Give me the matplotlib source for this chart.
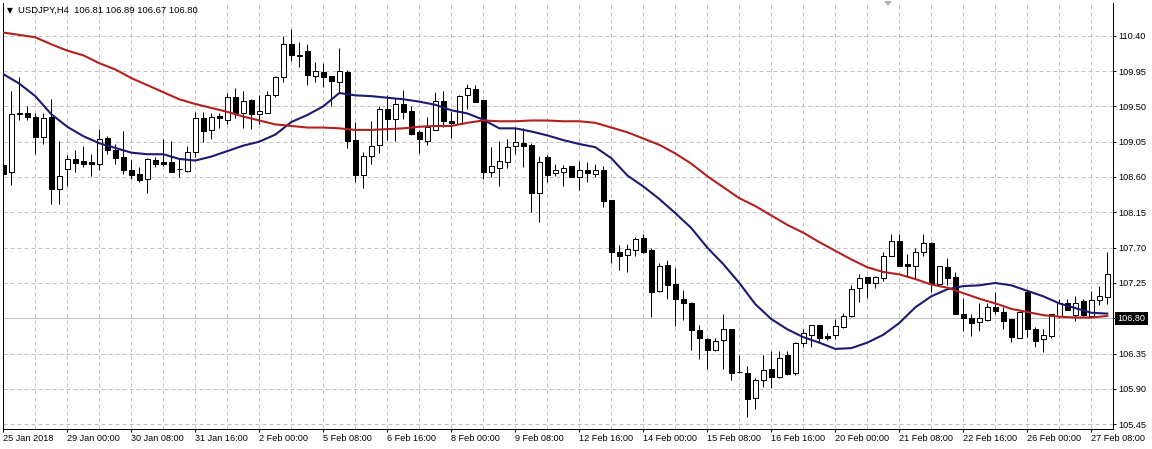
import numpy as np
import matplotlib.pyplot as plt
from matplotlib.patches import Polygon

# USDJPY H4 bars, 25 Jan 2018 16:00 .. 27 Feb 2018 16:00
opens = [108.75, 108.66, 109.40, 109.41, 109.37, 109.11, 109.37, 108.45, 108.70, 108.83,
         108.80, 108.79, 108.77, 109.10, 108.94, 108.85, 108.69, 108.64, 108.57, 108.82,
         108.79, 108.79, 108.70, 108.68, 108.92, 109.35, 109.20, 109.38, 109.33, 109.62,
         109.41, 109.58, 109.40, 109.42, 109.64, 109.87, 110.29, 110.15, 110.20, 109.89,
         109.94, 109.89, 109.81, 109.94, 109.07, 108.63, 108.87, 109.01, 109.47, 109.34,
         109.53, 109.44, 109.17, 109.06, 109.20, 109.57, 109.31, 109.28, 109.65, 109.72,
         109.58, 108.66, 108.72, 108.79, 109.00, 109.03, 109.01, 108.40, 108.85, 108.65,
         108.67, 108.74, 108.60, 108.69, 108.64, 108.69, 108.31, 107.64, 107.61, 107.67,
         107.82, 107.67, 107.15, 107.48, 107.24, 107.05, 107.00, 106.65, 106.54, 106.39,
         106.52, 106.66, 106.11, 106.10, 105.78, 106.01, 106.15, 106.05, 106.33, 106.10,
         106.49, 106.59, 106.71, 106.57, 106.59, 106.69, 106.83, 107.18, 107.32, 107.25,
         107.31, 107.60, 107.78, 107.49, 107.47, 107.65, 107.76, 107.24, 107.45, 107.32,
         106.86, 106.80, 106.75, 106.78, 106.95, 106.88, 106.79, 106.55, 107.14, 106.66,
         106.53, 106.57, 106.83, 106.99, 106.84, 107.02, 106.83, 107.03, 107.07]
highs = [109.15, 109.70, 109.87, 109.50, 109.41, 109.41, 109.59, 109.06, 108.88, 108.95,
         109.00, 108.89, 109.21, 109.12, 109.02, 109.19, 108.82, 108.73, 108.84, 108.86,
         109.09, 109.06, 108.83, 108.99, 109.43, 109.43, 109.41, 109.41, 109.67, 109.74,
         109.69, 109.59, 109.65, 109.70, 109.89, 110.39, 110.48, 110.32, 110.29, 110.07,
         110.05, 109.89, 110.24, 109.96, 109.30, 108.92, 109.31, 109.51, 109.64, 109.61,
         109.71, 109.50, 109.20, 109.36, 109.68, 109.69, 109.43, 109.65, 109.78, 109.77,
         109.58, 108.98, 109.06, 109.09, 109.23, 109.23, 109.03, 108.87, 108.88, 108.77,
         108.75, 108.74, 108.80, 108.79, 108.77, 108.74, 108.31, 107.73, 107.75, 107.84,
         107.88, 107.69, 107.51, 107.54, 107.44, 107.16, 107.01, 106.72, 106.55, 106.55,
         106.86, 106.66, 106.33, 106.19, 106.04, 106.33, 106.38, 106.38, 106.38, 106.50,
         106.66, 106.72, 106.72, 106.61, 106.79, 106.87, 107.22, 107.37, 107.32, 107.34,
         107.65, 107.88, 107.87, 107.62, 107.70, 107.88, 107.77, 107.46, 107.57, 107.39,
         107.06, 106.86, 106.99, 106.99, 107.13, 106.94, 106.79, 106.89, 107.15, 106.69,
         106.67, 106.86, 107.05, 107.04, 107.09, 107.04, 107.15, 107.21, 107.65]
lows = [108.58, 108.50, 109.33, 109.33, 108.89, 109.02, 108.26, 108.26, 108.49, 108.66,
        108.73, 108.61, 108.69, 108.89, 108.77, 108.64, 108.58, 108.53, 108.40, 108.73,
        108.74, 108.67, 108.60, 108.67, 108.86, 109.05, 109.09, 109.22, 109.28, 109.35,
        109.22, 109.21, 109.28, 109.41, 109.62, 109.81, 110.08, 110.00, 109.77, 109.81,
        109.75, 109.50, 109.67, 108.97, 108.54, 108.46, 108.77, 108.90, 109.07, 109.06,
        109.34, 109.13, 108.91, 109.01, 109.20, 109.24, 109.10, 109.27, 109.47, 109.55,
        108.57, 108.60, 108.49, 108.71, 108.89, 108.73, 108.15, 108.03, 108.54, 108.61,
        108.49, 108.60, 108.43, 108.54, 108.60, 108.22, 107.51, 107.41, 107.39, 107.59,
        107.63, 106.82, 107.13, 107.04, 106.70, 106.78, 106.40, 106.28, 106.15, 106.38,
        106.16, 106.02, 106.10, 105.54, 105.65, 105.93, 105.91, 106.04, 106.08, 106.08,
        106.43, 106.43, 106.49, 106.52, 106.54, 106.68, 106.82, 107.01, 107.06, 107.18,
        107.27, 107.59, 107.46, 107.32, 107.31, 107.60, 107.13, 107.21, 107.22, 106.85,
        106.64, 106.58, 106.64, 106.76, 106.85, 106.67, 106.50, 106.55, 106.56, 106.44,
        106.37, 106.55, 106.81, 106.90, 106.77, 106.83, 106.81, 106.97, 106.98]
closes = [108.64, 109.40, 109.41, 109.36, 109.11, 109.35, 108.45, 108.61, 108.83, 108.78,
          108.77, 108.76, 109.08, 108.95, 108.84, 108.69, 108.63, 108.56, 108.83, 108.76,
          108.77, 108.67, 108.70, 108.92, 109.35, 109.18, 109.36, 109.35, 109.62, 109.42,
          109.57, 109.40, 109.44, 109.65, 109.87, 110.29, 110.15, 110.14, 109.90, 109.95,
          109.87, 109.82, 109.95, 109.06, 108.63, 108.87, 109.00, 109.46, 109.34, 109.53,
          109.43, 109.15, 109.08, 109.24, 109.57, 109.31, 109.29, 109.63, 109.74, 109.56,
          108.67, 108.74, 108.80, 108.98, 109.04, 108.99, 108.40, 108.79, 108.63, 108.69,
          108.72, 108.60, 108.69, 108.65, 108.69, 108.29, 107.65, 107.59, 107.68, 107.81,
          107.65, 107.14, 107.47, 107.23, 107.04, 106.99, 106.65, 106.55, 106.40, 106.51,
          106.66, 106.10, 106.11, 105.77, 106.01, 106.14, 106.05, 106.29, 106.09, 106.48,
          106.61, 106.71, 106.55, 106.55, 106.70, 106.83, 107.17, 107.31, 107.25, 107.32,
          107.60, 107.78, 107.47, 107.46, 107.64, 107.76, 107.24, 107.46, 107.31, 106.86,
          106.80, 106.74, 106.80, 106.94, 106.89, 106.77, 106.56, 106.88, 106.67, 106.51,
          106.59, 106.85, 106.99, 106.90, 107.00, 106.84, 107.03, 107.09, 107.37]

# moving averages, read at every second bar (bars 0, 2, 4, ... 138)
fast_ma = [109.91, 109.79, 109.63, 109.40, 109.24, 109.12, 109.03, 108.97, 108.91, 108.89,
           108.89, 108.83, 108.81, 108.86, 108.93, 109.00, 109.05, 109.14, 109.30, 109.39,
           109.50, 109.67, 109.64, 109.63, 109.61, 109.59, 109.56, 109.52, 109.45, 109.41,
           109.33, 109.22, 109.22, 109.18, 109.13, 109.07, 109.02, 108.98, 108.84, 108.62,
           108.48, 108.32, 108.14, 107.95, 107.70, 107.49, 107.25, 106.98, 106.79, 106.66,
           106.56, 106.49, 106.41, 106.42, 106.49, 106.59, 106.74, 106.94, 107.08, 107.17,
           107.21, 107.22, 107.25, 107.22, 107.15, 107.08, 106.99, 106.93, 106.87, 106.86]
slow_ma = [110.44, 110.41, 110.38, 110.29, 110.21, 110.15, 110.05, 109.97, 109.86, 109.77,
           109.68, 109.59, 109.53, 109.48, 109.43, 109.37, 109.32, 109.27, 109.25, 109.23,
           109.23, 109.22, 109.20, 109.20, 109.21, 109.22, 109.24, 109.25, 109.25, 109.29,
           109.32, 109.31, 109.31, 109.32, 109.32, 109.31, 109.31, 109.29, 109.23, 109.17,
           109.09, 109.01, 108.90, 108.77, 108.61, 108.47, 108.33, 108.23, 108.11, 107.99,
           107.89, 107.77, 107.66, 107.55, 107.45, 107.39, 107.36, 107.30, 107.23, 107.19,
           107.12, 107.05, 106.99, 106.92, 106.88, 106.84, 106.82, 106.81, 106.81, 106.83]

date_labels = ["25 Jan 2018", "29 Jan 00:00", "30 Jan 08:00", "31 Jan 16:00", "2 Feb 00:00",
               "5 Feb 08:00", "6 Feb 16:00", "8 Feb 00:00", "9 Feb 08:00", "12 Feb 16:00",
               "14 Feb 00:00", "15 Feb 08:00", "16 Feb 16:00", "20 Feb 00:00", "21 Feb 08:00",
               "22 Feb 16:00", "26 Feb 00:00", "27 Feb 08:00"]
price_ticks = [110.40, 109.95, 109.50, 109.05, 108.60, 108.15, 107.70, 107.25,
               106.80, 106.35, 105.90, 105.45]
last_price = 106.80
header = "USDJPY,H4  106.81 106.89 106.67 106.80"

plt.rcParams['font.family'] = ['Liberation Sans', 'DejaVu Sans']

W, H = 1152, 449
fig = plt.figure(figsize=(W / 100, H / 100), dpi=100)
ax = fig.add_axes([3 / W, (H - 429.3) / H, (1113.3 - 3) / W, (429.3 - 3) / H])

o = np.array(opens)
h = np.array(highs)
l = np.array(lows)
c = np.array(closes)
x = np.arange(len(o))
ma_x = np.arange(0, len(o), 2)
px = 0.72  # one pixel in points

grid_col = '#c0c0c0'
for gx in np.arange(0, len(x), 4):
    ax.axvline(gx, color=grid_col, lw=px, ls=(0, (4, 3)), zorder=0)
for gy in price_ticks:
    ax.axhline(gy, color=grid_col, lw=px, ls=(0, (4, 3)), zorder=0)
ax.axhline(last_price, color=grid_col, lw=px, zorder=0.5)

# candles
ax.vlines(x, l, h, color='black', lw=px, zorder=2)
up = c >= o
body_low = np.minimum(o, c)
body_h = np.maximum(np.abs(c - o), 0.004)
ax.bar(x, body_h, bottom=body_low, width=0.62, color=np.where(up, 'white', 'black'),
       edgecolor='black', linewidth=px, zorder=3)

# moving averages
ax.plot(ma_x, fast_ma, color='#1b1b72', lw=1.5, zorder=4)
ax.plot(ma_x, slow_ma, color='#b3201f', lw=1.5, zorder=4)

ax.set_xlim(-0.0375, 138.75)
ax.set_ylim(110.40 - (429.3 - 35.7) / 78.5, 110.40 + (35.7 - 3) / 78.5)

ax.spines['top'].set_visible(False)
for s in ('left', 'right', 'bottom'):
    ax.spines[s].set_linewidth(px)
    ax.spines[s].set_color('black')

ax.yaxis.tick_right()
ax.set_yticks(price_ticks)
ax.set_yticklabels(['' if abs(p - last_price) < 1e-6 else '%.2f' % p for p in price_ticks])
ax.set_xticks(np.arange(0, len(x), 8))
ax.set_xticklabels(date_labels)
for lbl in ax.get_xticklabels():
    lbl.set_horizontalalignment('left')
ax.tick_params(axis='both', direction='out', length=2.2, width=px, labelsize=6.6,
               colors='black', pad=1.5)
ax.tick_params(axis='x', pad=1)

# current price box on the right scale
ax.text((1117.5 - 3) / 1110.3, last_price, '%.2f' % last_price,
        transform=ax.get_yaxis_transform(), ha='left', va='center', fontsize=6.6,
        color='white', bbox=dict(boxstyle='square,pad=0.25', fc='black', ec='none'),
        clip_on=False)

# header
fig.text(7 / W, 1 - 10.5 / H, '\u25bc', family='DejaVu Sans', fontsize=5.5, va='center')
fig.text(18 / W, 1 - 10.5 / H, header, fontsize=6.8, va='center')

# chart shift marker
fig.patches.append(Polygon([[884 / W, 1 - 1 / H], [892 / W, 1 - 1 / H], [888 / W, 1 - 6 / H]],
                           closed=True, transform=fig.transFigure, fc='#b0b0b0', ec='none'))

fig.savefig('out.png', dpi=100, facecolor='white')
